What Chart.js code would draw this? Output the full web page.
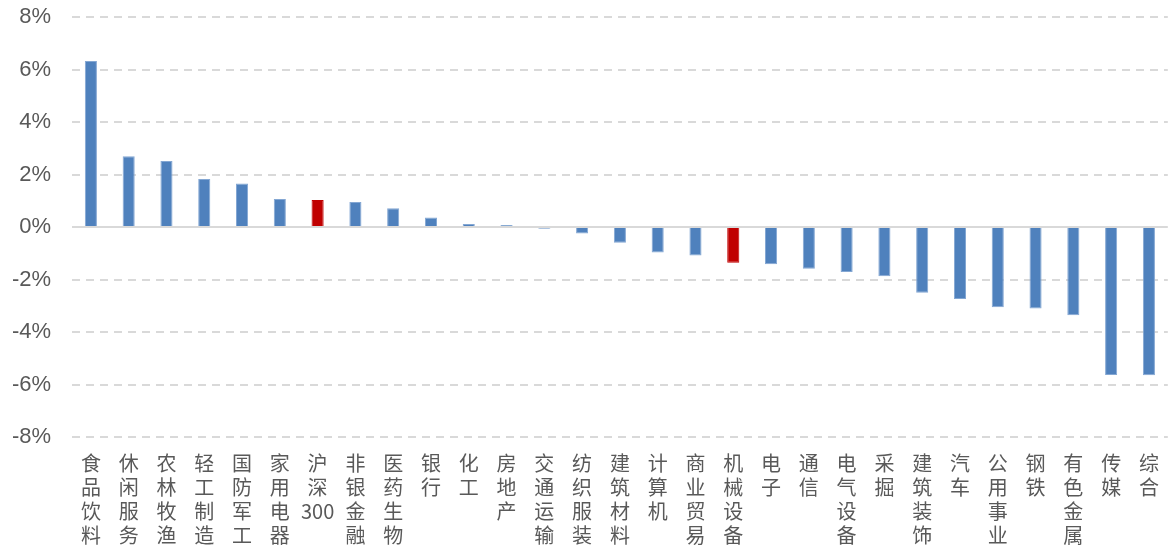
<!DOCTYPE html>
<html>
<head>
<meta charset="utf-8">
<script src="https://cdn.jsdelivr.net/npm/chart.js@4/dist/chart.umd.min.js"></script>
<style>
  html, body { margin: 0; padding: 0; background: #fff; }
  #wrap { width: 1173px; height: 547px; }
</style>
</head>
<body>
<div id="wrap"><canvas id="chart" width="1173" height="547"></canvas></div>
<script>
// industry returns, %
const categories = ['食品饮料', '休闲服务', '农林牧渔', '轻工制造', '国防军工', '家用电器', '沪深300', '非银金融', '医药生物', '银行',
    '化工', '房地产', '交通运输', '纺织服装', '建筑材料', '计算机', '商业贸易', '机械设备', '电子', '通信',
    '电气设备', '采掘', '建筑装饰', '汽车', '公用事业', '钢铁', '有色金属', '传媒', '综合'];
const returns = [6.32, 2.70, 2.51, 1.83, 1.66, 1.07, 1.03, 0.95, 0.71, 0.36,
    0.11, 0.08, -0.07, -0.25, -0.60, -0.97, -1.09, -1.36, -1.42, -1.59,
    -1.71, -1.88, -2.50, -2.74, -3.06, -3.10, -3.36, -5.64, -5.65];
const highlighted = ['沪深300', '机械设备'];
const yTicks = [-8, -6, -4, -2, 0, 2, 4, 6, 8];

// vertical labels: one character per line, keep digits together
const splitLabel = (s) => s.match(/[0-9]+|./g);

const zeroLine = {
    id: 'zeroLine',
    beforeDatasetsDraw(chart) {
        const { ctx, chartArea, scales } = chart;
        const y = scales.y.getPixelForValue(0);
        ctx.save();
        ctx.strokeStyle = '#d9d9d9';
        ctx.lineWidth = 2;
        ctx.beginPath();
        ctx.moveTo(chartArea.left, y);
        ctx.lineTo(chartArea.right, y);
        ctx.stroke();
        ctx.restore();
    }
};

new Chart(document.getElementById('chart'), {
    type: 'bar',
    data: {
        labels: categories.map(splitLabel),
        datasets: [{
            data: returns,
            backgroundColor: categories.map(c => highlighted.includes(c) ? '#c00000' : '#4f81bd'),
            borderColor: categories.map(c => highlighted.includes(c) ? '#c00000' : '#84a7d3'),
            borderWidth: 1,
            barPercentage: 0.32,
            categoryPercentage: 1
        }]
    },
    options: {
        responsive: false,
        animation: false,
        layout: { padding: { top: 17, right: 5, left: 0, bottom: 0 } },
        plugins: { legend: { display: false }, tooltip: { enabled: false } },
        scales: {
            x: {
                afterFit: (scale) => { scale.height = 110; },
                grid: { display: false, drawTicks: false },
                border: { display: false },
                ticks: {
                    autoSkip: false, maxRotation: 0, minRotation: 0, padding: 14,
                    color: '#595959',
                    font: { family: '"Noto Sans CJK SC", sans-serif', size: 20, lineHeight: 1.2 }
                }
            },
            y: {
                min: -8, max: 8,
                afterFit: (scale) => { scale.width = 72; scale.paddingTop = 0; scale.paddingBottom = 0; },
                afterBuildTicks: (scale) => { scale.ticks = yTicks.map(v => ({ value: v })); },
                grid: {
                    color: (c) => c.tick && c.tick.value === 0 ? 'rgba(0,0,0,0)' : '#d9d9d9',
                    lineWidth: 2,
                    drawTicks: false
                },
                border: { display: false, dash: [8, 6] },
                ticks: {
                    padding: 21,
                    color: '#595959',
                    font: { family: '"Liberation Sans", Arial, sans-serif', size: 22 },
                    callback: (v) => v + '%'
                }
            }
        }
    },
    plugins: [zeroLine]
});
</script>
</body>
</html>
